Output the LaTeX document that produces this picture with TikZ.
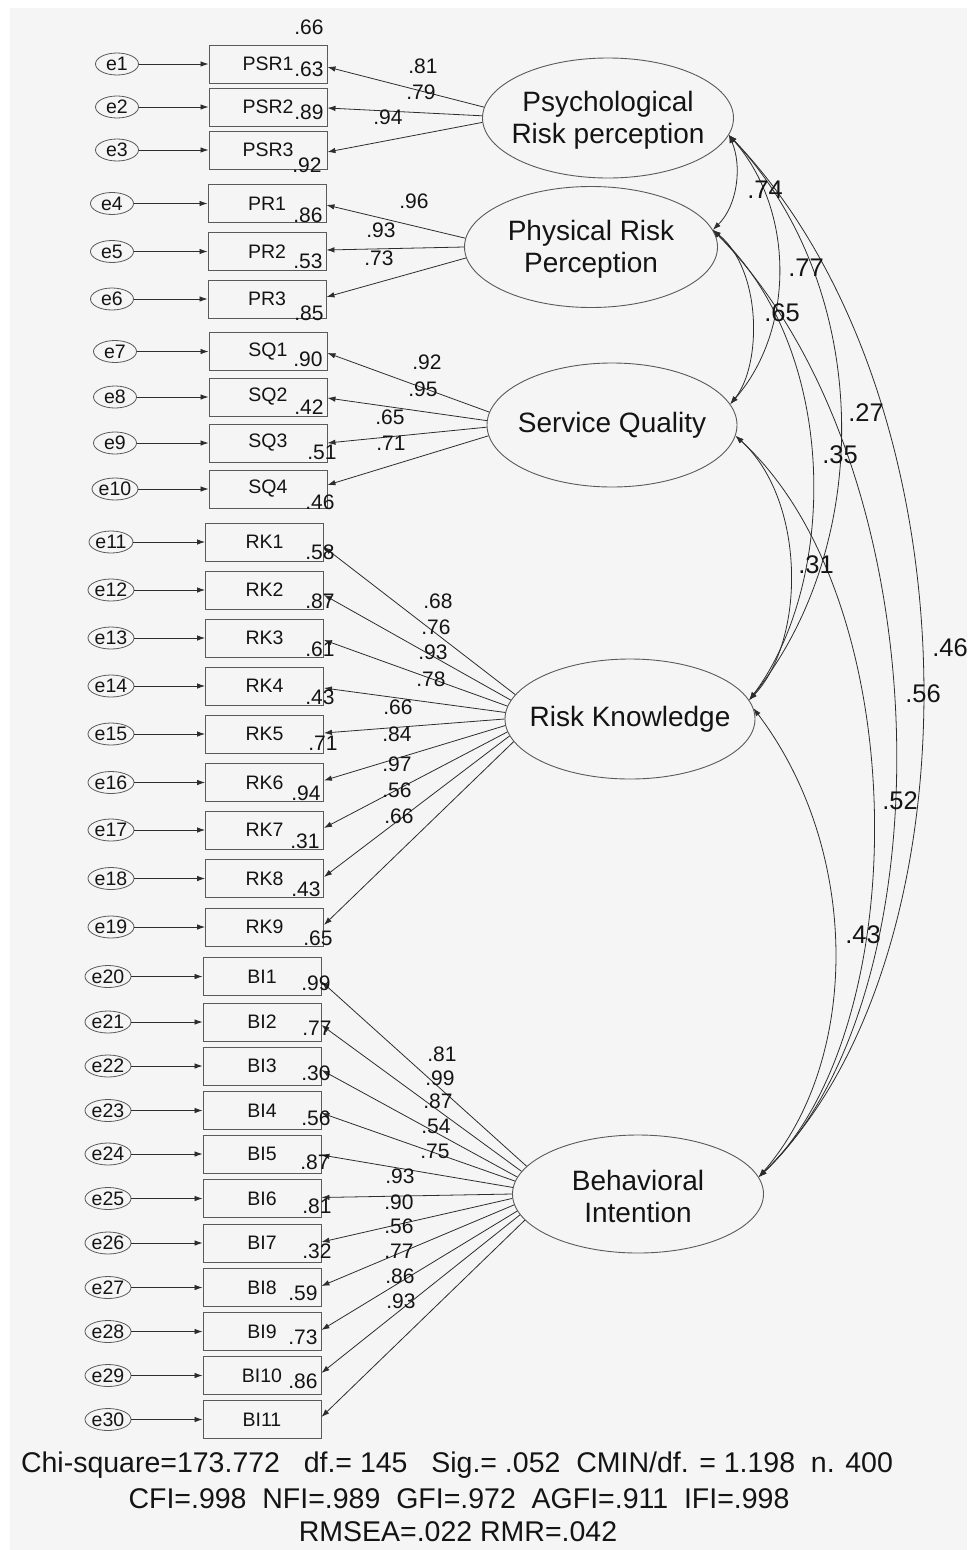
\documentclass[tikz,border=0pt]{standalone}
\usepackage{fontspec}
\setmainfont{Liberation Sans}
\usetikzlibrary{shapes.geometric,arrows.meta}
\definecolor{bgc}{RGB}{245,245,245}
\definecolor{linec}{RGB}{45,45,45}
\definecolor{boxc}{RGB}{90,90,90}
\definecolor{txtc}{RGB}{20,20,20}
\begin{document}
\begin{tikzpicture}[x=1pt,y=-1pt,
  every node/.style={text=txtc},
  err/.style={ellipse,draw=boxc,line width=0.8pt,minimum width=43pt,minimum height=22pt,inner sep=0pt,font=\fontsize{19.5}{20}\selectfont},
  ind/.style={rectangle,draw=boxc,line width=0.9pt,minimum width=118pt,minimum height=38pt,inner sep=0pt,font=\fontsize{19.5}{20}\selectfont},
  lat/.style={ellipse,draw=boxc,line width=0.9pt,inner sep=0pt},
  lattext/.style={inner sep=0pt,align=center,font=\fontsize{28}{32}\selectfont},
  num/.style={inner sep=0pt,font=\fontsize{21}{21}\selectfont},
  cor/.style={inner sep=0pt,font=\fontsize{25.5}{26}\selectfont},
  fit/.style={inner sep=0pt,font=\fontsize{28.5}{30}\selectfont},
  errarrow/.style={draw=linec,line width=0.8pt,-{Latex[length=8pt,width=5.5pt]}},
  loadarrow/.style={draw=linec,line width=0.8pt,-{Latex[length=8pt,width=5.5pt]}},
  corarrow/.style={draw=linec,line width=0.8pt,{Latex[length=8pt,width=5.5pt]}-{Latex[length=8pt,width=5.5pt]}}
]
\fill[white] (0,0) rectangle (972,1550);
\fill[bgc] (10,8) rectangle (967,1550);
\useasboundingbox (0,0) rectangle (972,1550);

% ---------- latent variables
\node[lat,minimum width=251pt,minimum height=120pt] (psr) at (608,118) {};
\node[lattext] (psrt) at (608,120) {Psychological\\Risk perception};
\node[lat,minimum width=253pt,minimum height=121pt] (pr) at (591,247) {};
\node[lattext] (prt) at (591,249) {Physical Risk\\Perception};
\node[lat,minimum width=250pt,minimum height=124pt] (sq) at (612,425) {};
\node[lattext] (sqt) at (612,425) {Service Quality};
\node[lat,minimum width=250pt,minimum height=120pt] (rk) at (630,719) {};
\node[lattext] (rkt) at (630,719) {Risk Knowledge};
\node[lat,minimum width=251pt,minimum height=118pt] (bi) at (638,1194) {};
\node[lattext] (bit) at (638,1196) {Behavioral\\Intention};

% ---------- indicators and errors
\foreach \nm/\lab/\y in {psr1/PSR1/64, psr2/PSR2/107, psr3/PSR3/150}{
  \node[ind] (\nm) at (268,\y) {\lab};}
\foreach \nm/\lab/\y in {pr1/PR1/203.5, pr2/PR2/251.5, pr3/PR3/299}{
  \node[ind] (\nm) at (267,\y) {\lab};}
\foreach \nm/\lab/\y in {sq1/SQ1/351.5, sq2/SQ2/397, sq3/SQ3/443, sq4/SQ4/489}{
  \node[ind] (\nm) at (268,\y) {\lab};}
\foreach \nm/\lab/\y in {rk1/RK1/542, rk2/RK2/590, rk3/RK3/638, rk4/RK4/686, rk5/RK5/734, rk6/RK6/782.5, rk7/RK7/830, rk8/RK8/878.5, rk9/RK9/927}{
  \node[ind] (\nm) at (264.5,\y) {\lab};}
\foreach \nm/\lab/\y in {bi1/BI1/976.5, bi2/BI2/1022, bi3/BI3/1066, bi4/BI4/1110.5, bi5/BI5/1154, bi6/BI6/1198.5, bi7/BI7/1243, bi8/BI8/1287.5, bi9/BI9/1331.5, bi10/BI10/1375.5, bi11/BI11/1419.5}{
  \node[ind] (\nm) at (262,\y) {\lab};}

\foreach \e/\x/\y/\t in {1/117/64/psr1, 2/117/107/psr2, 3/117/150/psr3,
  4/112/203.5/pr1, 5/112/251.5/pr2, 6/112/299/pr3,
  7/115/351.5/sq1, 8/115/397/sq2, 9/115/443/sq3, 10/115/489/sq4,
  11/111/542/rk1, 12/111/590/rk2, 13/111/638/rk3, 14/111/686/rk4, 15/111/734/rk5,
  16/111/782.5/rk6, 17/111/830/rk7, 18/111/878.5/rk8, 19/111/927/rk9,
  20/108/976.5/bi1, 21/108/1022/bi2, 22/108/1066/bi3, 23/108/1110.5/bi4, 24/108/1154/bi5,
  25/108/1198.5/bi6, 26/108/1243/bi7, 27/108/1287.5/bi8, 28/108/1331.5/bi9, 29/108/1375.5/bi10, 30/108/1419.5/bi11}{
  \node[err] (e\e) at (\x,\y) {e\e};
  \draw[errarrow] (e\e) -- (\t);}

% ---------- loadings (start point on the left part of the latent ellipse; \d = height above centre, \o = shift of the tip)
\foreach \t/\d/\o in {psr1/11/-3, psr2/2/-1, psr3/-5/-2}{
  \pgfmathtruncatemacro\ang{round(atan2(\d,-125.5*sqrt(1-(\d/60)^2)))}
  \draw[loadarrow] (psr.\ang) -- ([yshift=\o pt]\t.east);}
\foreach \t/\d/\o in {pr1/9/-1.5, pr2/0/1.5, pr3/-10/2}{
  \pgfmathtruncatemacro\ang{round(atan2(\d,-126.5*sqrt(1-(\d/60.5)^2)))}
  \draw[loadarrow] (pr.\ang) -- ([yshift=\o pt]\t.east);}
\foreach \t/\d/\o in {sq1/13/-1.5, sq2/5/-1, sq3/-3/0, sq4/-10/4}{
  \pgfmathtruncatemacro\ang{round(atan2(\d,-125*sqrt(1-(\d/62)^2)))}
  \draw[loadarrow] (sq.\ang) -- ([yshift=\o pt]\t.east);}
\foreach \t/\d/\o in {rk1/24/-5, rk2/18/-5, rk3/12/-2, rk4/6/-2, rk5/0/1, rk6/-6/2, rk7/-12/2, rk8/-17/1.5, rk9/-22/2}{
  \pgfmathtruncatemacro\ang{round(atan2(\d,-125*sqrt(1-(\d/60)^2)))}
  \draw[loadarrow] (rk.\ang) -- ([yshift=\o pt]\t.east);}
\foreach \t/\d/\o in {bi1/27/-5, bi2/22/-3, bi3/17/-4, bi4/12/-2.5, bi5/7/-1, bi6/1/1, bi7/-5/1, bi8/-11/1.5, bi9/-16/1.5, bi10/-21/2.5, bi11/-26/2.5}{
  \pgfmathtruncatemacro\ang{round(atan2(\d,-125.5*sqrt(1-(\d/59)^2)))}
  \draw[loadarrow] (bi.\ang) -- ([yshift=\o pt]\t.east);}

% ---------- correlations
\draw[corarrow] (psr.-8) .. controls (742,165) and (738,205) .. (pr.8);
\draw[corarrow] (psr.-8) .. controls (795,210) and (795,330) .. (sq.10);
\draw[corarrow] (pr.8) .. controls (762,270) and (762,365) .. (sq.10);
\draw[corarrow] (psr.-8) .. controls (874,290) and (874,545) .. (rk.9);
\draw[corarrow] (pr.8) .. controls (839,350) and (839,580) .. (rk.9);
\draw[corarrow] (sq.-5) .. controls (806,500) and (806,640) .. (rk.9);
\draw[corarrow] (psr.-8) .. controls (982,400) and (982,960) .. (bi.8);
\draw[corarrow] (pr.8) .. controls (948,470) and (948,1000) .. (bi.8);
\draw[corarrow] (sq.-5) .. controls (915,600) and (915,1030) .. (bi.8);
\draw[corarrow] (rk.5) .. controls (861,850) and (861,1060) .. (bi.8);

% ---------- squared multiple correlations
\foreach \t/\x/\y [count=\i] in {.66/309/27, .63/309/69, .89/309/112, .92/307/165,
  .86/308/215, .53/308/261, .85/309/313,
  .90/308/359, .42/309/407, .51/322/452, .46/320/502,
  .58/320/552, .87/320/601, .61/320/649, .43/320/697, .71/323/743, .94/306/793, .31/305/841, .43/306/889, .65/318/938,
  .99/316/983, .77/317/1028, .30/316/1073, .56/316/1118, .87/315/1162, .81/317/1206, .32/317/1251, .59/303/1293, .73/303/1337, .86/303/1381}{
  \node[num] (r\i) at (\x,\y) {\t};}

% ---------- loading values
\foreach \t/\x/\y [count=\i] in {.81/423/66, .79/421/92, .94/388/117,
  .96/414/201, .93/381/230, .73/379/258,
  .92/427/362, .95/423/389, .65/390/417, .71/391/443,
  .68/438/601, .76/436/627, .93/433/652, .78/431/679, .66/398/707, .84/397/734, .97/397/764, .56/397/790, .66/399/816,
  .81/442/1054, .99/440/1078, .87/438/1101, .54/436/1126, .75/435/1151, .93/400/1176, .90/399/1202, .56/399/1226, .77/399/1251, .86/400/1276, .93/401/1301}{
  \node[num] (l\i) at (\x,\y) {\t};}

% ---------- correlation values
\foreach \t/\x/\y [count=\i] in {.74/765/190, .77/806/268, .65/782/313, .27/866/413, .35/840/455,
  .31/816/565, .46/950/648, .56/923/694, .52/900/801, .43/863/935}{
  \node[cor] (c\i) at (\x,\y) {\t};}

% ---------- fit indices
\node[fit] (fit1) at (457,1465) {Chi-square=173.772\ \ \ df.= 145\ \ \ Sig.= .052\ \ CMIN/df. = 1.198\ \ n. 400};
\node[fit] (fit2) at (459,1499) {CFI=.998\ \ NFI=.989\ \ GFI=.972\ \ AGFI=.911\ \ IFI=.998};
\node[fit] (fit3) at (458,1532) {RMSEA=.022 RMR=.042};
\end{tikzpicture}
\end{document}
